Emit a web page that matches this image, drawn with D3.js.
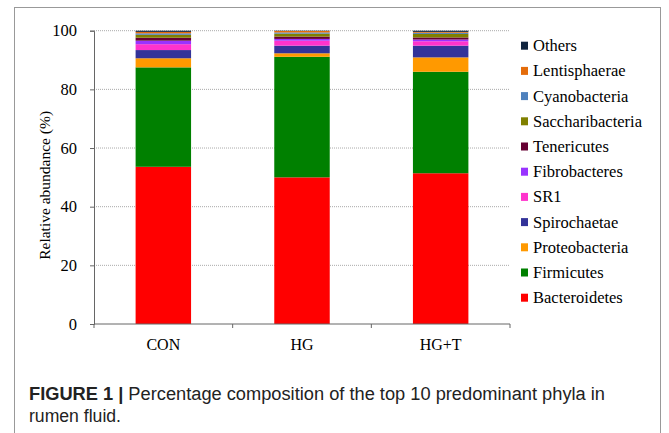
<!DOCTYPE html>
<html>
<head>
<meta charset="utf-8">
<script src="https://cdn.jsdelivr.net/npm/d3@7"></script>
<style>
  body { margin: 0; background: #fff; }
  svg { display: block; }
  .serif { font-family: "Liberation Serif", "Times New Roman", "DejaVu Serif", serif; }
  .cap { font-family: "Liberation Sans Narrow", "Liberation Sans", Arial, sans-serif; }
</style>
</head>
<body>
<svg id="chart"></svg>
<script>
// data (% of reads)
const groups = ["CON", "HG", "HG+T"];
const phyla = ["Bacteroidetes", "Firmicutes", "Proteobacteria", "Spirochaetae", "SR1",
  "Fibrobacteres", "Tenericutes", "Saccharibacteria", "Cyanobacteria", "Lentisphaerae", "Others"];
const conValues = [53.6, 33.9, 3.1, 2.8, 2.0, 1.2, 1.0, 1.0, 0.5, 0.5, 0.4];
const hgValues = [50.0, 41.1, 1.2, 2.6, 1.7, 0.6, 0.8, 1.0, 0.4, 0.5, 0.1];
const hgtValues = [51.4, 34.6, 4.9, 4.0, 1.5, 0.6, 0.7, 1.2, 0.4, 0.3, 0.4];
const yTicks = [0, 20, 40, 60, 80, 100];
const colors = ["#ff0000", "#008000", "#ff9900", "#333399", "#ff33cc",
  "#9933ff", "#660033", "#808000", "#4f81bd", "#e46c0a", "#10243e"];

const width = 669, height = 433;
const svg = d3.select("#chart").attr("width", width).attr("height", height);

// figure frame
svg.append("rect")
  .attr("x", 14.5).attr("y", 7.5)
  .attr("width", 646).attr("height", 440)
  .attr("fill", "none").attr("stroke", "#999").attr("stroke-width", 1);

const margin = { left: 94, right: 510, top: 30.7, bottom: 324 };

const x = d3.scaleBand().domain(groups).range([margin.left, margin.right]).paddingInner(0.6).paddingOuter(0.3);
const y = d3.scaleLinear().domain([0, 100]).range([margin.bottom, margin.top]);
const color = d3.scaleOrdinal().domain(phyla).range(colors);

const rows = groups.map((g, i) => {
  const vals = [conValues, hgValues, hgtValues][i];
  const r = { group: g };
  phyla.forEach((p, j) => r[p] = vals[j]);
  return r;
});
const stack = d3.stack().keys(phyla)(rows);

// gridlines
svg.append("g")
  .selectAll("line")
  .data(yTicks.filter(d => d > 0))
  .join("line")
  .attr("x1", margin.left).attr("x2", margin.right)
  .attr("y1", d => y(d)).attr("y2", d => y(d))
  .attr("stroke", "#aaa").attr("stroke-width", 1)
  .attr("stroke-dasharray", "1,1");

// bars
svg.append("g")
  .selectAll("g")
  .data(stack)
  .join("g")
  .attr("fill", d => color(d.key))
  .selectAll("rect")
  .data(d => d)
  .join("rect")
  .attr("x", d => x(d.data.group))
  .attr("width", x.bandwidth())
  .attr("y", d => y(d[1]))
  .attr("height", d => y(d[0]) - y(d[1]));

// y axis
const yAxis = svg.append("g")
  .attr("transform", `translate(${margin.left},0)`)
  .call(d3.axisLeft(y).tickValues(yTicks).tickSize(4).tickPadding(13))
  .attr("font-family", null);
yAxis.selectAll("text").attr("class", "serif").attr("font-size", 16.5).attr("fill", "#000");
yAxis.selectAll("line, path").attr("stroke", "#666");

// x axis with ticks at band boundaries
const xAxisG = svg.append("g");
xAxisG.append("line")
  .attr("x1", margin.left).attr("x2", margin.right)
  .attr("y1", y(0)).attr("y2", y(0))
  .attr("stroke", "#666");
const step = (margin.right - margin.left) / groups.length;
xAxisG.selectAll(".tk")
  .data(d3.range(groups.length + 1))
  .join("line")
  .attr("x1", d => margin.left + d * step).attr("x2", d => margin.left + d * step)
  .attr("y1", y(0)).attr("y2", y(0) + 4)
  .attr("stroke", "#666");
xAxisG.selectAll("text")
  .data(groups)
  .join("text")
  .attr("class", "serif")
  .attr("x", d => x(d) + x.bandwidth() / 2)
  .attr("y", 350)
  .attr("text-anchor", "middle")
  .attr("font-size", 16)
  .text(d => d);

// y label
svg.append("text")
  .attr("class", "serif")
  .attr("transform", `translate(50,${(margin.top + margin.bottom) / 2 + 8}) rotate(-90)`)
  .attr("text-anchor", "middle")
  .attr("font-size", 15.5)
  .text("Relative abundance (%)");

// legend, top to bottom reversed
const legend = svg.append("g")
  .selectAll("g")
  .data(phyla.slice().reverse())
  .join("g")
  .attr("transform", (d, i) => `translate(521,${45.7 + i * 25.2})`);
legend.append("rect")
  .attr("x", 0).attr("y", -4).attr("width", 7).attr("height", 8)
  .attr("fill", d => color(d));
legend.append("text")
  .attr("class", "serif")
  .attr("x", 12).attr("y", 5.5)
  .attr("font-size", 16.5)
  .text(d => d);

// caption
const cap = svg.append("text")
  .attr("class", "cap")
  .attr("x", 29).attr("y", 400)
  .attr("font-size", 18)
  .attr("fill", "#222")
  .attr("textLength", 576).attr("lengthAdjust", "spacingAndGlyphs");
cap.append("tspan").attr("font-weight", "bold").text("FIGURE 1 | ");
cap.append("tspan").text("Percentage composition of the top 10 predominant phyla in");
svg.append("text")
  .attr("class", "cap")
  .attr("x", 29).attr("y", 422)
  .attr("font-size", 18)
  .attr("fill", "#222")
  .attr("textLength", 92).attr("lengthAdjust", "spacingAndGlyphs")
  .text("rumen fluid.");
</script>
</body>
</html>
